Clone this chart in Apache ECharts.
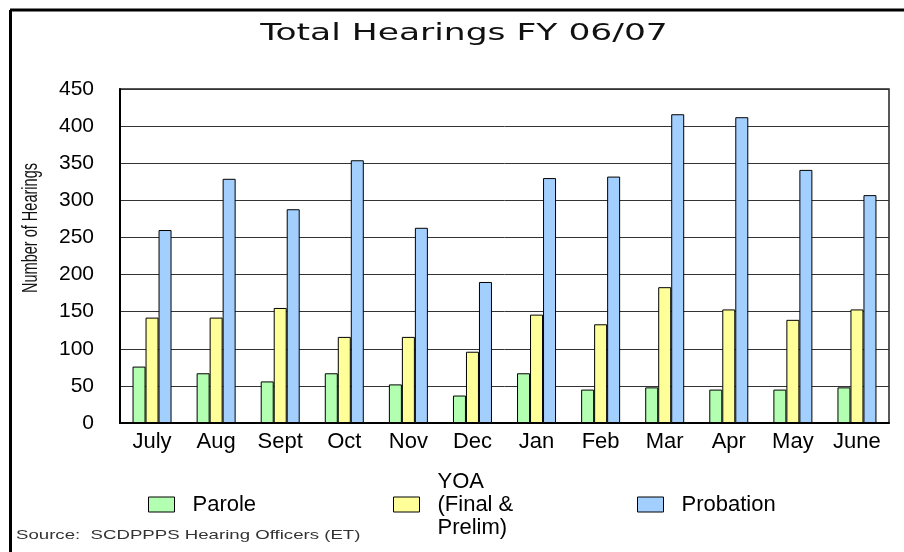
<!DOCTYPE html>
<html>
<head>
<meta charset="utf-8">
<script src="https://cdn.jsdelivr.net/npm/echarts@6/dist/echarts.min.js"></script>
<style>html,body{margin:0;padding:0;background:#fff;}#c{width:904px;height:552px;}</style>
</head>
<body>
<div id="c"></div>
<script>
const categories = ['July','Aug','Sept','Oct','Nov','Dec','Jan','Feb','Mar','Apr','May','June'];
const parole = [76, 67, 56, 67, 52, 37, 67, 45, 48, 45, 45, 48];
const yoa = [142, 142, 155, 116, 116, 96, 146, 133, 183, 153, 139, 153];
const probation = [260, 329, 288, 354, 263, 190, 330, 332, 416, 412, 341, 307];
const seriesNames = ['Parole', 'YOA (Final & Prelim)', 'Probation'];
const yMax = 450, yStep = 50;

const F = 'Liberation Sans, Arial, sans-serif';
const chart = echarts.init(document.getElementById('c'), null, {renderer: 'canvas'});
const barStyle = c => ({color: c, borderColor: '#000', borderWidth: 1});
const legendBase = (name, left, top) => ({
  data: [{name: name, icon: 'rect'}], left: left, top: top, padding: 0, orient: 'horizontal',
  itemWidth: 26, itemHeight: 15, selectedMode: false,
  itemStyle: {borderColor: '#000', borderWidth: 1},
  formatter: n => n === seriesNames[1] ? 'YOA\n(Final &\nPrelim)' : n,
  textStyle: {fontSize: 22, fontFamily: F, color: '#000', lineHeight: 23, padding: [0, 0, 0, 13]}
});
chart.setOption({
  animation: false,
  backgroundColor: '#fff',
  grid: {left: 120, right: 15, top: 89, bottom: 129, show: true, borderColor: '#222', borderWidth: 1.5, backgroundColor: '#fff'},
  xAxis: {
    type: 'category', data: categories,
    axisLine: {lineStyle: {color: '#000', width: 2}},
    axisTick: {show: false},
    axisLabel: {fontSize: 22, fontFamily: F, color: '#000', margin: 8}
  },
  yAxis: {
    type: 'value', min: 0, max: yMax, interval: yStep,
    axisLine: {show: true, lineStyle: {color: '#000', width: 2}},
    axisTick: {show: false},
    splitLine: {lineStyle: {color: '#333', width: 1}},
    axisLabel: {fontSize: 21, fontFamily: F, color: '#000', margin: 26}
  },
  legend: [
    legendBase(seriesNames[0], 148, 493),
    legendBase(seriesNames[1], 393, 470),
    legendBase(seriesNames[2], 637, 493)
  ],
  series: [
    {name: seriesNames[0], type: 'bar', data: parole, barWidth: 13, barGap: '0%', itemStyle: barStyle('#b2ffb2')},
    {name: seriesNames[1], type: 'bar', data: yoa, barWidth: 13, barGap: '0%', itemStyle: barStyle('#ffff99')},
    {name: seriesNames[2], type: 'bar', data: probation, barWidth: 13, barGap: '0%', itemStyle: barStyle('#a3cfff')}
  ],
  graphic: [
    {type: 'line', shape: {x1: 10, y1: 10, x2: 904, y2: 10}, style: {stroke: '#000', lineWidth: 3}},
    {type: 'line', shape: {x1: 10.5, y1: 10, x2: 10.5, y2: 552}, style: {stroke: '#000', lineWidth: 3}},
    {type: 'text', x: 464, y: 34, scaleX: 1.5,
     style: {text: 'Total Hearings FY 06/07', fontSize: 23, fontFamily: 'DejaVu Sans, sans-serif', fill: '#111', align: 'center', verticalAlign: 'middle'}},
    {type: 'text', x: 31, y: 228, rotation: Math.PI / 2, scaleX: 0.66,
     style: {text: 'Number of Hearings', fontSize: 22, fontFamily: F, fill: '#111', align: 'center', verticalAlign: 'middle'}},
    {type: 'text', x: 16, y: 535, scaleX: 1.38,
     style: {text: 'Source:  SCDPPPS Hearing Officers (ET)', fontSize: 13.5, fontFamily: F, fill: '#333', align: 'left', verticalAlign: 'middle'}}
  ]
});
</script>
</body>
</html>
